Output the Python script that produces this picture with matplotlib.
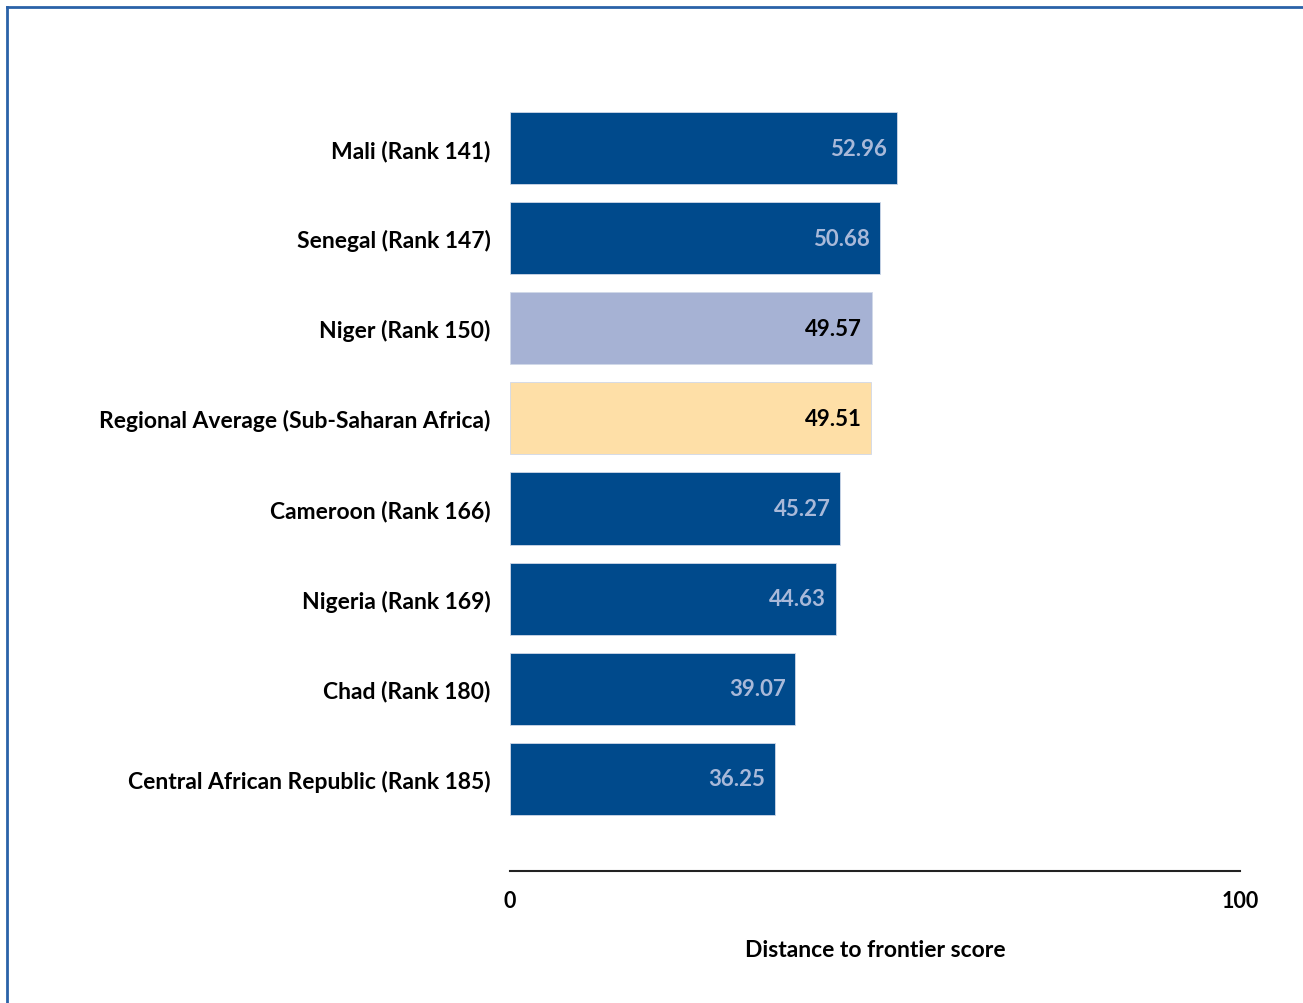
import matplotlib
matplotlib.use("Agg")
import matplotlib.pyplot as plt
from matplotlib.lines import Line2D

categories = ["Mali (Rank 141)", "Senegal (Rank 147)", "Niger (Rank 150)",
              "Regional Average (Sub-Saharan Africa)", "Cameroon (Rank 166)",
              "Nigeria (Rank 169)", "Chad (Rank 180)",
              "Central African Republic (Rank 185)"]
values = [52.96, 50.68, 49.57, 49.51, 45.27, 44.63, 39.07, 36.25]
highlight = ["dark", "dark", "niger", "region", "dark", "dark", "dark", "dark"]
x_ticks = [0, 100]
x_label = "Distance to frontier score"

colors = {"dark": "#004A8C", "niger": "#A6B2D4", "region": "#FEDFA7"}
text_colors = {"dark": "#A9B9D9", "niger": "#000000", "region": "#000000"}

plt.rcParams['font.family'] = ['Lato', 'DejaVu Sans']

fig = plt.figure(figsize=(13.03, 10.04), dpi=100)
ax = fig.add_axes([510/1303, 132/1004, 730/1303, 768/1004])

ypos = list(range(len(categories)))
bar_colors = [colors[h] for h in highlight]
ax.barh(ypos, values, height=0.8, color=bar_colors, edgecolor="#D0D8E8", linewidth=0.6)

for y, v, h in zip(ypos, values, highlight):
    ax.annotate(f"{v:.2f}", xy=(v, y), xytext=(-7, 0), textcoords="offset points",
                ha="right", va="center", fontsize=16, fontweight="bold",
                color=text_colors[h])

ax.set_xlim(0, 100)
ax.set_ylim(8.022, -0.5)
ax.set_yticks(ypos)
ax.set_yticklabels(categories, fontsize=16.5, fontweight="bold")
ax.set_xticks(x_ticks)
ax.set_xticklabels([str(t) for t in x_ticks], fontsize=15.5, fontweight="bold")
ax.tick_params(axis="y", length=0, pad=14)
ax.tick_params(axis="x", length=0, pad=14)
for s in ["top", "right", "left"]:
    ax.spines[s].set_visible(False)
ax.spines["bottom"].set_linewidth(1.5)
ax.spines["bottom"].set_color("#222222")
ax.set_xlabel(x_label, fontsize=16.5, fontweight="bold", labelpad=20)

# frame lines of the page
fig.add_artist(Line2D([7/1303, 1], [1 - 8/1004, 1 - 8/1004], transform=fig.transFigure,
                      color="#2A62A8", linewidth=2))
fig.add_artist(Line2D([7/1303, 7/1303], [0, 1 - 8/1004], transform=fig.transFigure,
                      color="#2A62A8", linewidth=2))

fig.savefig("out.png", dpi=100)
